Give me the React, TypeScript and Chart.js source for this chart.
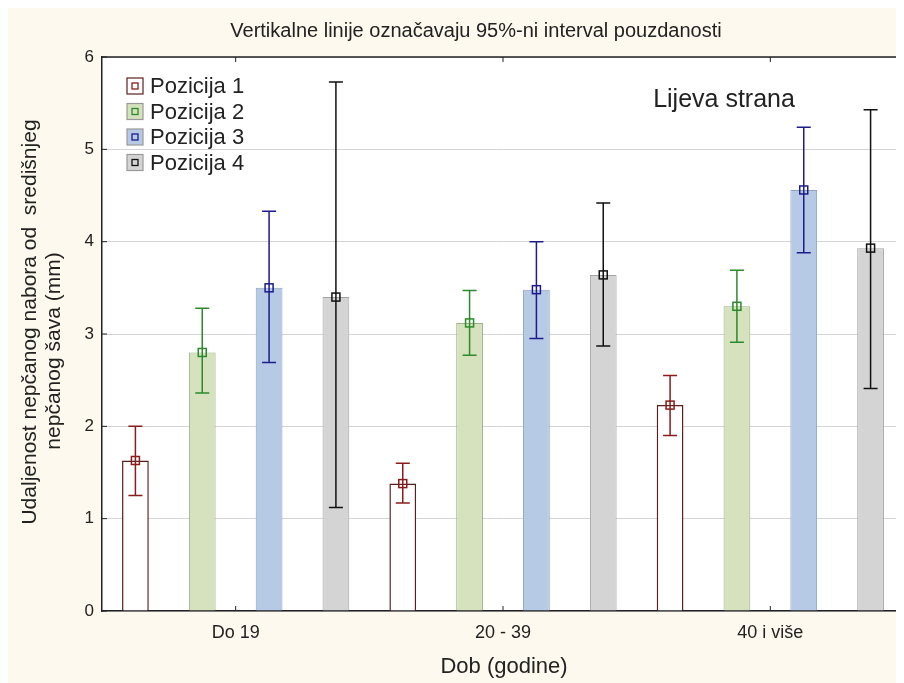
import React, { useEffect, useRef } from "react";
import { Chart, registerables } from "chart.js";

Chart.register(...registerables);

const categories = ["Do 19", "20 - 39", "40 i više"];
const seriesLabels = ["Pozicija 1", "Pozicija 2", "Pozicija 3", "Pozicija 4"];

const pos1Mean = [1.63, 1.38, 2.23];
const pos1Low = [1.25, 1.17, 1.9];
const pos1High = [2.0, 1.6, 2.55];

const pos2Mean = [2.8, 3.12, 3.3];
const pos2Low = [2.36, 2.77, 2.91];
const pos2High = [3.28, 3.47, 3.69];

const pos3Mean = [3.5, 3.48, 4.56];
const pos3Low = [2.69, 2.95, 3.88];
const pos3High = [4.33, 4.0, 5.24];

const pos4Mean = [3.4, 3.64, 3.93];
const pos4Low = [1.12, 2.87, 2.41];
const pos4High = [5.73, 4.42, 5.43];

const yTicks = [0, 1, 2, 3, 4, 5, 6];

const chartTitle = "Vertikalne linije označavaju 95%-ni interval pouzdanosti";
const xTitle = "Dob (godine)";
const yTitleLines = ["Udaljenost nepčanog nabora od  središnjeg", "nepčanog šava (mm)"];
const annotation = "Lijeva strana";

const fills = ["#ffffff", "#d5e2bd", "#b6cae5", "#d4d4d4"];
const borders = ["#5a1e1e", "#9caf86", "#8ca0bf", "#a3a3a3"];
const errColors = ["#8a1c1c", "#2b8a2b", "#1c1c8a", "#111111"];

const means = [pos1Mean, pos2Mean, pos3Mean, pos4Mean];
const lows = [pos1Low, pos2Low, pos3Low, pos4Low];
const highs = [pos1High, pos2High, pos3High, pos4High];

const FONT = "'Liberation Sans', Arial, sans-serif";
const CREAM = "#fdf9ee";

const decorPlugin = {
  id: "decor",
  beforeDraw(chart: any) {
    const { ctx, width, height, chartArea: a } = chart;
    ctx.save();
    ctx.fillStyle = CREAM;
    ctx.fillRect(0, 0, width, height);
    ctx.fillStyle = "#ffffff";
    ctx.fillRect(a.left, a.top, a.right - a.left, a.bottom - a.top);
    ctx.restore();
  },
  afterDatasetsDraw(chart: any) {
    const { ctx, chartArea: a, scales } = chart;
    const ys = scales.y;
    const xs = scales.x;
    ctx.save();
    // error bars
    for (let d = 0; d < means.length; d++) {
      const meta = chart.getDatasetMeta(d);
      ctx.strokeStyle = errColors[d];
      ctx.lineWidth = 1.5;
      meta.data.forEach((el: any, i: number) => {
        const x = el.x;
        const yl = ys.getPixelForValue(lows[d][i]);
        const yh = ys.getPixelForValue(highs[d][i]);
        const ym = ys.getPixelForValue(means[d][i]);
        ctx.beginPath();
        ctx.moveTo(x, yl);
        ctx.lineTo(x, yh);
        ctx.moveTo(x - 7, yl);
        ctx.lineTo(x + 7, yl);
        ctx.moveTo(x - 7, yh);
        ctx.lineTo(x + 7, yh);
        ctx.stroke();
        ctx.strokeRect(x - 4, ym - 4, 8, 8);
      });
    }
    // frame
    ctx.strokeStyle = "#222";
    ctx.lineWidth = 1.5;
    ctx.beginPath();
    ctx.moveTo(a.left, a.top);
    ctx.lineTo(a.right, a.top);
    ctx.stroke();
    ctx.lineWidth = 1;
    ctx.beginPath();
    yTicks.forEach((v) => {
      const y = ys.getPixelForValue(v);
      ctx.moveTo(a.left, y);
      ctx.lineTo(a.left + 5, y);
      ctx.moveTo(a.right, y);
      ctx.lineTo(a.right - 5, y);
    });
    categories.forEach((_, i) => {
      const x = xs.getPixelForValue(i);
      ctx.moveTo(x, a.bottom);
      ctx.lineTo(x, a.bottom - 5);
      ctx.moveTo(x, a.top);
      ctx.lineTo(x, a.top + 5);
    });
    ctx.stroke();

    // legend
    const lx = 119;
    let ly = 78;
    ctx.font = `22px ${FONT}`;
    ctx.textBaseline = "middle";
    ctx.textAlign = "left";
    for (let d = 0; d < seriesLabels.length; d++) {
      ctx.fillStyle = fills[d];
      ctx.fillRect(lx, ly - 8, 16, 16);
      ctx.strokeStyle = d === 0 ? borders[0] : "#999";
      ctx.lineWidth = 1.2;
      ctx.strokeRect(lx, ly - 8, 16, 16);
      ctx.strokeStyle = errColors[d];
      ctx.lineWidth = 1.3;
      ctx.strokeRect(lx + 5, ly - 3, 6, 6);
      ctx.fillStyle = "#222";
      ctx.fillText(seriesLabels[d], lx + 23, ly + 1);
      ly += 25.5;
    }

    // annotation
    ctx.font = `25px ${FONT}`;
    ctx.textAlign = "center";
    ctx.fillStyle = "#222";
    ctx.fillText(annotation, 716, 92);
    ctx.restore();
  },
  afterDraw(chart: any) {
    const { ctx } = chart;
    ctx.save();
    ctx.fillStyle = "#222";
    ctx.textAlign = "center";
    ctx.textBaseline = "middle";
    ctx.font = `20px ${FONT}`;
    ctx.fillText(chartTitle, 468, 23);
    ctx.font = `22px ${FONT}`;
    ctx.fillText(xTitle, 496, 659);
    ctx.font = `21px ${FONT}`;
    ctx.save();
    ctx.translate(22, 314);
    ctx.rotate(-Math.PI / 2);
    ctx.fillText(yTitleLines[0], 0, 0);
    ctx.restore();
    ctx.save();
    ctx.translate(46, 343);
    ctx.rotate(-Math.PI / 2);
    ctx.fillText(yTitleLines[1], 0, 0);
    ctx.restore();
    ctx.restore();
  },
};

export default function App() {
  const ref = useRef<HTMLCanvasElement | null>(null);
  useEffect(() => {
    if (!ref.current) return;
    const chart = new Chart(ref.current, {
      type: "bar",
      data: {
        labels: categories,
        datasets: means.map((m, d) => ({
          label: seriesLabels[d],
          data: m,
          backgroundColor: fills[d],
          borderColor: borders[d],
          borderWidth: d === 0 ? 1.5 : 1,
          barPercentage: 0.4,
          categoryPercentage: 1.0,
        })),
      },
      options: {
        animation: false,
        responsive: false,
        maintainAspectRatio: false,
        layout: { padding: { left: 0, right: 0, top: 49, bottom: 0 } },
        plugins: {
          legend: { display: false },
          title: { display: false },
          tooltip: { enabled: false },
        },
        scales: {
          x: {
            grid: { display: false, drawTicks: false },
            border: { display: true, color: "#222", width: 1.5 },
            ticks: {
              color: "#222",
              font: { family: FONT, size: 18 },
              padding: 11,
            },
            afterFit: (s: any) => {
              s.height = 72;
            },
          },
          y: {
            min: 0,
            max: 6,
            grid: { color: "#d4d4d4", lineWidth: 1, drawTicks: false },
            border: { display: true, color: "#222", width: 1.5 },
            ticks: {
              stepSize: 1,
              color: "#222",
              font: { family: FONT, size: 17 },
              padding: 8,
            },
            afterFit: (s: any) => {
              s.width = 94;
            },
          },
        },
      },
      plugins: [decorPlugin],
    });
    return () => chart.destroy();
  }, []);
  return <canvas ref={ref} width={896} height={675} style={{ display: "block" }} />;
}
